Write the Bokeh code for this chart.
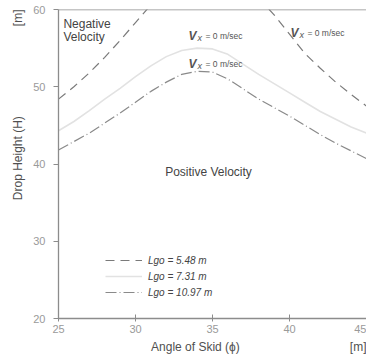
import numpy as np
from bokeh.plotting import figure
from bokeh.models import Label, Span, Legend, LegendItem, FixedTicker, Range1d, Title
from bokeh.embed import file_html
from bokeh.resources import INLINE

# ---- data ----
phi = [25, 26, 27, 28, 29, 30, 31, 32, 33, 34, 35, 36, 37, 38, 39, 40, 41, 42, 43, 44, 45]
h_548 = [48.4, 50.0, 51.8, 53.8, 56.0, 58.3, 60.6, np.nan, np.nan, np.nan, np.nan, np.nan, np.nan,
         61.5, 59.3, 56.8, 54.3, 52.4, 50.6, 49.0, 47.5]
h_731 = [44.3, 45.5, 46.9, 48.4, 49.8, 51.3, 52.7, 53.9, 54.7, 55.0, 54.9, 54.2, 52.9, 51.6,
         50.4, 49.2, 48.0, 46.8, 45.8, 44.8, 44.0]
h_1097 = [41.8, 42.9, 44.0, 45.3, 46.6, 48.0, 49.4, 50.6, 51.6, 52.0, 51.9, 51.0, 49.7, 48.4,
          47.3, 46.2, 45.0, 43.8, 42.7, 41.7, 40.7]
series_labels = ["Lgo = 5.48 m", "Lgo = 7.31 m", "Lgo = 10.97 m"]
x_ticks = [25, 30, 35, 40, 45]
y_ticks = [20, 30, 40, 50, 60]
x_lo, x_hi = 25, 45
y_lo, y_hi = 20, 60
x_title = "Angle of Skid (\u03d5)"
y_title = "Drop Height (H)"
unit = "[m]"

FONT = "Liberation Sans"
NBSP = "\u00a0"

p = figure(width=366, height=359, output_backend="svg", toolbar_location=None,
           x_range=Range1d(x_lo, x_hi), y_range=Range1d(y_lo, y_hi),
           min_border_left=58, min_border_right=0, min_border_top=9, min_border_bottom=41)
p.outline_line_color = None
p.xgrid.visible = False
p.ygrid.visible = False
p.background_fill_color = "white"

r1 = p.line(phi, h_548, line_color="#7a7a7a", line_width=1.2, line_dash="9 6")
r2 = p.line(phi, h_731, line_color="#e2e2e2", line_width=1.6)
r3 = p.line(phi, h_1097, line_color="#8a8a8a", line_width=1.2, line_dash="11 3 1 3")

for ax in (p.xaxis[0], p.yaxis[0]):
    ax.axis_line_color = "#8c8c8c"
    ax.axis_line_width = 1.3
    ax.major_tick_line_color = "#8c8c8c"
    ax.minor_tick_line_color = None
    ax.major_label_text_font = FONT
    ax.major_label_text_font_size = "11px"
    ax.major_label_text_color = "#9a9a9a"

p.xaxis.ticker = FixedTicker(ticks=x_ticks)
p.yaxis.ticker = FixedTicker(ticks=y_ticks)
p.xaxis.major_tick_in = 4
p.xaxis.major_tick_out = 3
p.yaxis.major_tick_in = 0
p.yaxis.major_tick_out = 5
p.xaxis.major_label_standoff = 3
p.yaxis.major_label_standoff = 8

# axis titles with the unit marker at the far end (as side titles)
p.add_layout(Title(text=x_title + NBSP * 33 + unit, align="right", text_font=FONT,
                   text_font_size="12px", text_font_style="normal", text_color="#505050",
                   standoff=4, offset=0), "below")
p.add_layout(Title(text=y_title + NBSP * 27 + unit, align="right", text_font=FONT,
                   text_font_size="12px", text_font_style="normal", text_color="#505050",
                   standoff=12, offset=0), "left")

p.add_layout(Span(location=y_hi, dimension="width", line_color="#8c8c8c", line_width=1.3))

legend = Legend(items=[LegendItem(label=series_labels[0], renderers=[r1]),
                       LegendItem(label=series_labels[1], renderers=[r2]),
                       LegendItem(label=series_labels[2], renderers=[r3])],
                location=(47, 18), margin=0, padding=0, spacing=0,
                glyph_width=37, glyph_height=16, label_height=16, label_standoff=6,
                label_text_font=FONT, label_text_font_size="10px", label_text_color="#444444",
                label_text_font_style="italic",
                border_line_color=None, background_fill_alpha=0)
p.add_layout(legend)


def add_label(x, y, text, size="12px", style="normal", color="#444444", align="left",
              baseline="middle", x_offset=0, y_offset=0):
    p.add_layout(Label(x=x, y=y, text=text, text_font=FONT, text_font_size=size,
                       text_font_style=style, text_color=color, text_align=align,
                       text_baseline=baseline, x_offset=x_offset, y_offset=y_offset))


add_label(25.32, 58.06, "Negative")
add_label(25.32, 56.38, "Velocity")
add_label(34.74, 38.9, "Positive Velocity", align="center")

for (lx, ly) in [(33.44, 56.63), (33.44, 52.97), (40.06, 57.0)]:
    add_label(lx, ly, "V", size="12px", style="bold italic", color="#555555")
    add_label(lx, ly, "x", size="9px", style="italic", color="#555555", x_offset=9, y_offset=-2)
    add_label(lx, ly, "= 0 m/sec", size="8.5px", color="#555555", x_offset=17)

open("out.html", "w").write(file_html(p, INLINE))
